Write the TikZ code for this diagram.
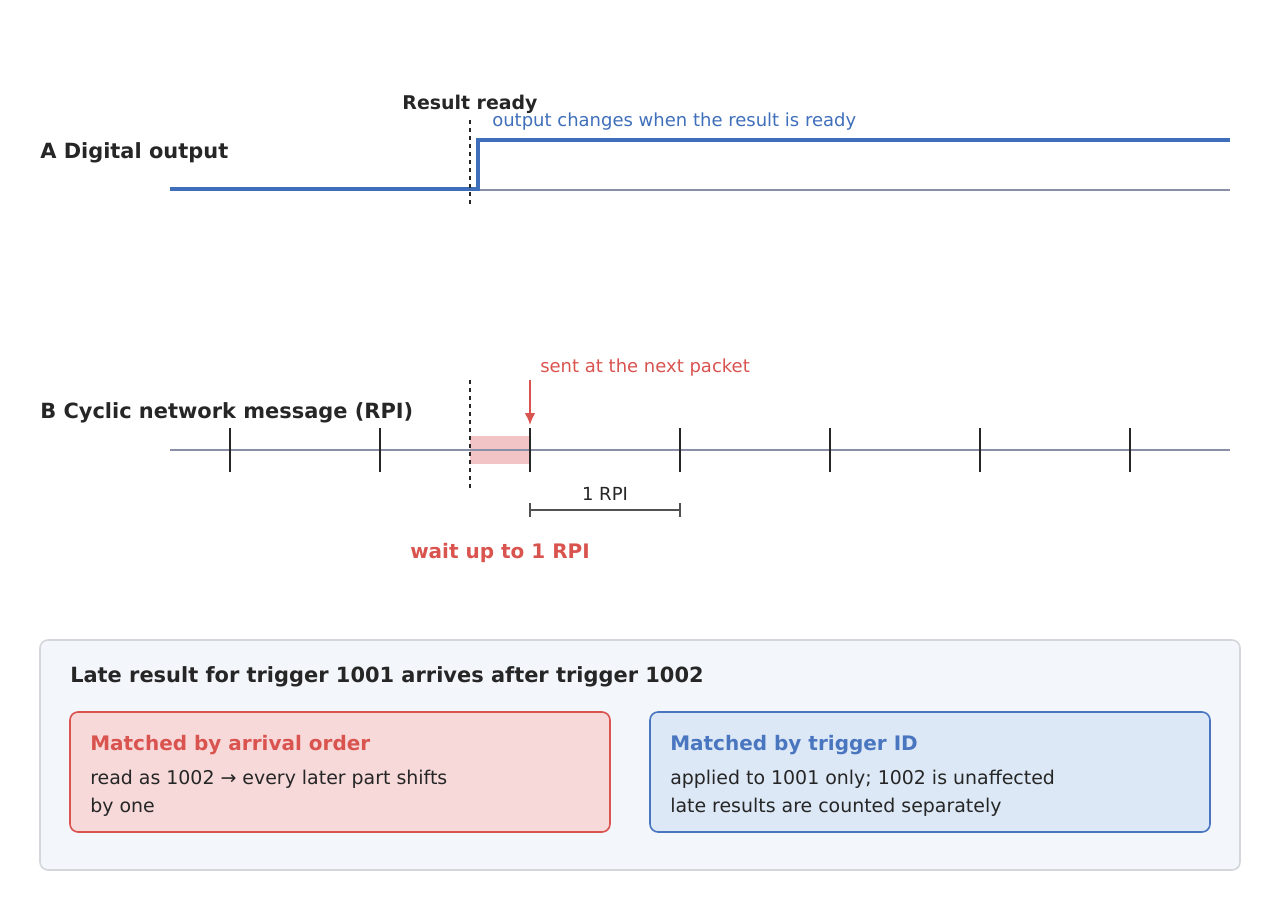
\documentclass[tikz,border=0pt]{standalone}
\usepackage{fontspec}
\setmainfont{DejaVu Sans}
\usetikzlibrary{arrows.meta}
\begin{document}
\definecolor{sigblue}{HTML}{3F6FBA}
\definecolor{axis}{HTML}{8A8FA8}
\definecolor{txt}{HTML}{262626}
\definecolor{red1}{HTML}{D9534F}
\definecolor{pink}{HTML}{F2C4C6}
\definecolor{panel}{HTML}{F3F6FA}
\definecolor{panelb}{HTML}{D3D7DC}
\definecolor{redbox}{HTML}{F7D9DA}
\definecolor{bluebox}{HTML}{DCE8F6}
\definecolor{blueb}{HTML}{4A76C0}
\begin{tikzpicture}[x=0.75pt,y=-0.75pt,
  lbl/.style={font=\fontsize{15.7}{19}\selectfont\bfseries,text=txt,inner sep=0},
  small/.style={font=\fontsize{13.5}{16}\selectfont,inner sep=0},
  body/.style={font=\fontsize{14.2}{17}\selectfont,text=txt,inner sep=0,anchor=west},
  tick/.style={line width=1.5pt,draw=txt},
  box/.style={rounded corners=6pt,line width=1.2pt}]
\useasboundingbox (0,0) rectangle (1280,920);
% A
\node[lbl,anchor=west] (la) at (40,153) {A Digital output};
\draw[axis,line width=1.2pt] (170,190) -- (1230,190);
\draw[sigblue,line width=2.5pt] (170,189) -- (478,189) -- (478,140) -- (1230,140);
\draw[dashed,txt,line width=1pt] (470,120) -- (470,206);
\node[lbl,font=\fontsize{14.2}{17}\selectfont\bfseries] (rr) at (470,104) {Result ready};
\node[small,text=sigblue,anchor=west] (oc) at (492,122) {output changes when the result is ready};
% B
\node[lbl,anchor=west] (lb) at (40,413) {B Cyclic network message (RPI)};
\fill[pink] (470,436) rectangle (530,464);
\draw[axis,line width=1.2pt] (170,450) -- (1230,450);
\foreach \x in {230,380,530,680,830,980,1130} \draw[tick] (\x,428) -- (\x,472);
\draw[dashed,txt,line width=1pt] (470,380) -- (470,490);
\coordinate (as) at (530,380); \coordinate (ae) at (530,425);
\draw[red1,line width=1.5pt,-{Latex[length=9pt,width=8pt]}] (as) -- (ae);
\node[small,text=red1,anchor=west] (sn) at (540,368) {sent at the next packet};
\coordinate (d1) at (530,510); \coordinate (d2) at (680,510);
\draw[txt!80,line width=1pt] (d1) -- (d2) (530,503) -- (530,517) (680,503) -- (680,517);
\node[small,text=txt] (rpi) at (605,494) {1 RPI};
\node[lbl,text=red1,font=\fontsize{15}{18}\selectfont\bfseries] (w) at (500,553) {wait up to 1 RPI};
% panel
\draw[box,fill=panel,draw=panelb] (40,640) rectangle (1240,870);
\node[lbl,anchor=west] (pt) at (70,677) {Late result for trigger 1001 arrives after trigger 1002};
\draw[box,fill=redbox,draw=red1] (70,712) rectangle (610,832);
\node[lbl,text=red1,anchor=west,font=\fontsize{15}{18}\selectfont\bfseries] (r1) at (90,745) {Matched by arrival order};
\node[body] at (90,779) {read as 1002 → every later part shifts};
\node[body] at (90,807) {by one};
\draw[box,fill=bluebox,draw=blueb] (650,712) rectangle (1210,832);
\node[lbl,text=blueb,anchor=west,font=\fontsize{15}{18}\selectfont\bfseries] (b1) at (670,745) {Matched by trigger ID};
\node[body] at (670,779) {applied to 1001 only; 1002 is unaffected};
\node[body] at (670,807) {late results are counted separately};
\end{tikzpicture}
\end{document}
